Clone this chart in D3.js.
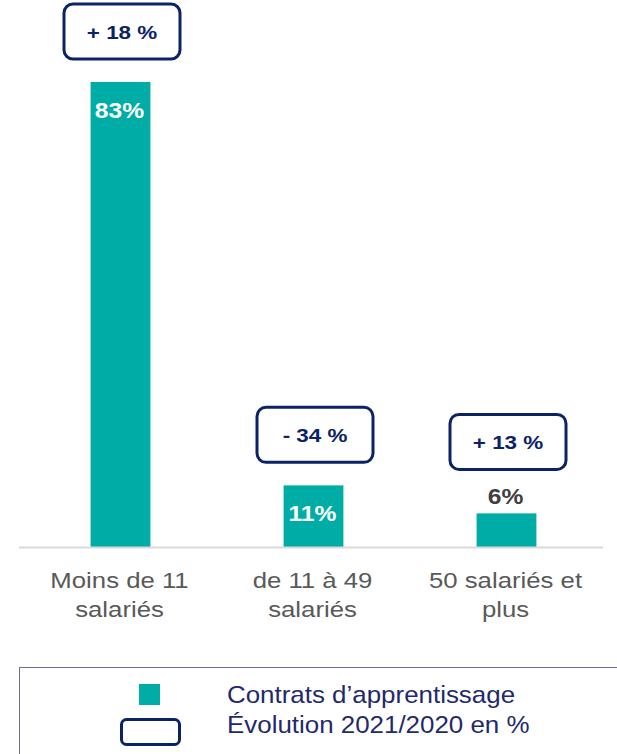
<!DOCTYPE html>
<html><head><meta charset="utf-8">
<script src="https://cdn.jsdelivr.net/npm/d3@7"></script>
<style>body{margin:0;background:#fff}svg{display:block;font-family:"Liberation Sans",Arial,sans-serif}</style>
</head><body>
<script>
const categories = [["Moins de 11","salariés"],["de 11 à 49","salariés"],["50 salariés et","plus"]];
const values = [83, 11, 6];
const evolutions = ["+ 18 %", "- 34 %", "+ 13 %"];
const valueLabels = ["83%", "11%", "6%"];
const legendLabels = ["Contrats d\u2019apprentissage", "Évolution 2021/2020 en %"];

const W = 617, H = 754;
const teal = "#00ADA6", navy = "#0C2266";
const svg = d3.select("body").append("svg").attr("width", W).attr("height", H);
const place = (x, y, s = 1.18) => `translate(${x},${y}) scale(${s},1)`;

const baseY = 547;
const x = d3.scaleBand().domain(d3.range(values.length)).range([24, 603]).paddingInner(0.69).paddingOuter(0.345);
const y = d3.scaleLinear().domain([0, 83]).range([baseY, 82]);
const cx = i => x(i) + x.bandwidth()/2;

// bars
svg.selectAll("rect.bar").data(values).join("rect").attr("class","bar")
  .attr("x", (d,i) => x(i)).attr("y", d => y(d))
  .attr("width", x.bandwidth()).attr("height", d => baseY - y(d)).attr("fill", teal);

// axis line
svg.append("line").attr("x1", 19).attr("x2", 603).attr("y1", baseY+0.5).attr("y2", baseY+0.5)
  .attr("stroke", "#d9d9d9").attr("stroke-width", 2);

// value labels
const inside = d => (baseY - y(d)) > 40;
svg.selectAll("text.val").data(values).join("text").attr("class","val")
  .attr("transform", (d,i) => place(cx(i) - 1, inside(d) ? y(d) + 36 : y(d) - 9, 1.12))
  .attr("text-anchor","middle").attr("font-size", 22).attr("font-weight","bold")
  .attr("fill", d => inside(d) ? "#fff" : "#404040")
  .text((d,i) => valueLabels[i]);

// evolution callouts
const bw = 116, bh = 55;
const boxBottom = d => inside(d) ? y(d) - 23 : y(d) - 44;
const g = svg.selectAll("g.evo").data(values).join("g").attr("class","evo");
g.append("rect")
  .attr("x", (d,i) => cx(i) - bw/2 + 1.5)
  .attr("y", d => boxBottom(d) - bh)
  .attr("width", bw).attr("height", bh).attr("rx", 9)
  .attr("fill", "#fff").attr("stroke", navy).attr("stroke-width", 3);
g.append("text")
  .attr("transform", (d,i) => place(cx(i) + 1.5, boxBottom(d) - bh/2 + 7))
  .attr("text-anchor","middle").attr("font-size", 19).attr("font-weight","bold")
  .attr("fill", navy).text((d,i) => evolutions[i]);

// category labels
svg.selectAll("text.cat").data(categories).join("text").attr("class","cat")
  .attr("transform", (d,i) => place(cx(i) - 1, 588, 1.17))
  .attr("text-anchor","middle").attr("font-size", 22).attr("fill", "#595959")
  .each(function(d){
    const t = d3.select(this);
    d.forEach((line, k) => t.append("tspan").attr("x", 0).attr("dy", k ? 29 : 0).text(line));
  });

// legend
svg.append("rect").attr("x", 19.5).attr("y", 667.5).attr("width", 620).attr("height", 100)
  .attr("fill","none").attr("stroke","#6A7098").attr("stroke-width",1);
svg.append("rect").attr("x", 139).attr("y", 684).attr("width", 21).attr("height", 21).attr("fill", teal);
svg.append("rect").attr("x", 121.5).attr("y", 719.5).attr("width", 58).attr("height", 25).attr("rx", 5)
  .attr("fill","#fff").attr("stroke", navy).attr("stroke-width", 3);
svg.selectAll("text.leg").data(legendLabels).join("text").attr("class","leg")
  .attr("transform", (d,i) => place(227, 703 + i*30, 1.08))
  .attr("font-size", 24).attr("fill", "#1F2A6B").text(d => d);
</script>
</body></html>
